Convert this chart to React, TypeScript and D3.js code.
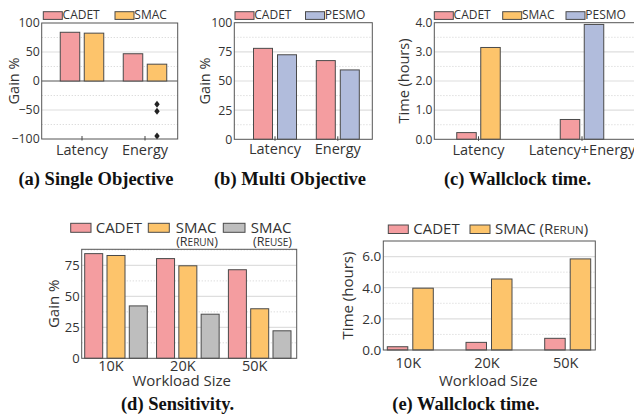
import React from 'react';
import * as d3 from 'd3';

const W = 634;
const H = 418;

const CADET = '#f49da0';
const SMAC = '#fdc46b';
const PESMO = '#b1bcdc';
const REUSE = '#bebebe';
const EDGE = '#4a4a4a';
const INK = '#333';
const SANS = '"Open Sans", Lato, sans-serif';
const SERIF = '"Liberation Serif", serif';

// (a) single objective
const singleCats = ['Latency', 'Energy'];
const singleCadet = [84, 47];
const singleSmac = [82.5, 29];
const singleSmacOutliers = [-40, -52, -95];
const singleTicks = [-100, -50, 0, 50, 100];

// (b) multi objective
const multiCats = ['Latency', 'Energy'];
const multiCadet = [78, 67.5];
const multiPesmo = [72.5, 59.5];
const multiTicks = [0, 25, 50, 75, 100];

// (c) wallclock time
const wallCats = ['Latency', 'Latency+Energy'];
const wallCadet = [0.23, 0.68];
const wallSmac = [3.15, null];
const wallPesmo = [null, 3.94];
const wallTicks = [0, 1, 2, 3, 4];

// (d) sensitivity
const sizeCats = ['10K', '20K', '50K'];
const sensCadet = [84.5, 80.5, 71.5];
const sensSmacRerun = [83, 74.7, 40];
const sensSmacReuse = [42.3, 35.6, 22.2];
const sensTicks = [0, 25, 50, 75];
const sensMax = 88;

// (e) wallclock time vs workload size
const timeCadet = [0.21, 0.49, 0.75];
const timeSmacRerun = [3.97, 4.56, 5.85];
const timeTicks = [0, 2, 4, 6];
const timeMax = 7;

type Series = { color: string; values: (number | null)[] };

interface PanelProps {
  left: number;
  right: number;
  top: number;
  bottom: number;
  xRange: [number, number];
  cats: string[];
  series: Series[];
  yDomain: [number, number];
  ticks: number[];
  fmt: (v: number) => string;
  barW: number;
  gap: number;
  tickSize: number;
  catSize: number;
  catY: number;
  catDx?: number;
  xTicks?: boolean;
  yLabel: string;
  yLabelX: number;
  yLabelSize: number;
  outliers?: { cat: number; series: number; values: number[] };
}

const Panel: React.FC<PanelProps> = (p) => {
  const y = d3.scaleLinear().domain(p.yDomain).range([p.bottom, p.top]);
  const x = d3.scalePoint<string>().domain(p.cats).range(p.xRange);
  const step = p.ticks[1] - p.ticks[0];
  const minor = d3.range(p.yDomain[0] + step / 2, p.yDomain[1], step);
  const inner = p.ticks.filter((t) => t > p.yDomain[0] && t < p.yDomain[1]);

  const bars: { x: number; y0: number; y1: number; color: string; key: string }[] = [];
  const barX: Record<string, number> = {};
  p.cats.forEach((c, ci) => {
    const present = p.series.map((s, si) => ({ s, si })).filter((d) => d.s.values[ci] != null);
    const total = present.length * p.barW + (present.length - 1) * p.gap;
    present.forEach((d, k) => {
      const bx = (x(c) as number) - total / 2 + k * (p.barW + p.gap);
      barX[`${ci}-${d.si}`] = bx;
      const v = d.s.values[ci] as number;
      bars.push({ x: bx, y0: y(Math.max(0, p.yDomain[0])), y1: y(v), color: d.s.color, key: `${ci}-${d.si}` });
    });
  });

  const diamond = d3.symbol().type(d3.symbolDiamond).size(14)();

  return (
    <g>
      {minor.map((t) => (
        <line key={`m${t}`} x1={p.left} x2={p.right} y1={y(t)} y2={y(t)} stroke="#cfcfcf" strokeWidth={0.8} strokeDasharray="1.2 1.8" />
      ))}
      {inner.map((t) => (
        <line key={`g${t}`} x1={p.left} x2={p.right} y1={y(t)} y2={y(t)} stroke={t === 0 ? '#555' : '#dedede'} strokeWidth={t === 0 ? 1 : 1.2} />
      ))}
      {bars.map((b) => (
        <rect key={b.key} x={b.x} y={Math.min(b.y0, b.y1)} width={p.barW} height={Math.abs(b.y0 - b.y1)} fill={b.color} stroke={EDGE} strokeWidth={1} />
      ))}
      {p.outliers &&
        p.outliers.values.map((v) => (
          <path
            key={`o${v}`}
            d={diamond as string}
            transform={`translate(${barX[`${p.outliers!.cat}-${p.outliers!.series}`] + p.barW / 2},${y(v)}) scale(1.35,1)`}
            fill="#222"
          />
        ))}
      <rect x={p.left} y={p.top} width={p.right - p.left} height={p.bottom - p.top} fill="none" stroke="#555" strokeWidth={1} />
      {p.xTicks &&
        p.cats.map((c) => (
          <line key={`t${c}`} x1={x(c)} x2={x(c)} y1={p.bottom - 3} y2={p.bottom + 1.5} stroke="#444" strokeWidth={1} />
        ))}
      {p.ticks.map((t) => (
        <text key={`l${t}`} x={p.left - 2} y={y(t)} dy="0.36em" textAnchor="end" fontSize={p.tickSize} fill={INK} fontFamily={SANS}>
          {p.fmt(t)}
        </text>
      ))}
      {p.cats.map((c) => (
        <text key={`c${c}`} x={(x(c) as number) + (p.catDx ?? 0)} y={p.catY} textAnchor="middle" fontSize={p.catSize} fill={INK} fontFamily={SANS}>
          {c}
        </text>
      ))}
      <text
        transform={`translate(${p.yLabelX},${(p.top + p.bottom) / 2}) rotate(-90)`}
        textAnchor="middle"
        dy="0.35em"
        fontSize={p.yLabelSize}
        fill={INK}
        fontFamily={SANS}
      >
        {p.yLabel}
      </text>
    </g>
  );
};

const Swatch: React.FC<{ x: number; y: number; w: number; h: number; color: string }> = ({ x, y, w, h, color }) => (
  <rect x={x} y={y} width={w} height={h} fill={color} stroke={EDGE} strokeWidth={1} />
);

const Title: React.FC<{ x: number; y: number; text: string }> = ({ x, y, text }) => (
  <text x={x} y={y} textAnchor="middle" fontSize={18.5} fontWeight="bold" fill="#111" fontFamily={SERIF}>
    {text}
  </text>
);

const Legend: React.FC<{ items: { x: number; color: string; label: string }[]; y: number; w: number; h: number; size: number; dx: number }> = ({
  items,
  y,
  w,
  h,
  size,
  dx,
}) => (
  <g>
    {items.map((it) => (
      <g key={it.label + it.x}>
        <Swatch x={it.x} y={y} w={w} h={h} color={it.color} />
        <text x={it.x + w + dx} y={y + h} fontSize={size} fill={INK} fontFamily={SANS}>
          {it.label}
        </text>
      </g>
    ))}
  </g>
);

// two-line legend label: "SMAC" over a small-caps "(Rerun)"
const StackedLabel: React.FC<{ x: number; y: number; cx: number; rest: string }> = ({ x, y, cx, rest }) => (
  <text x={x} y={y} fontSize={15}>
    SMAC
    <tspan x={cx} dy={13.5} textAnchor="middle" fontSize={12.5}>
      (R<tspan fontSize={10}>{rest}</tspan>)
    </tspan>
  </text>
);

const fmtInt = (v: number) => d3.format('d')(v);
const fmt1 = (v: number) => d3.format('.1f')(v);

export default function App() {
  return (
    <div style={{ position: 'fixed', left: 0, top: 0, background: '#fff' }}>
      <svg width={W} height={H} viewBox={`0 0 ${W} ${H}`} style={{ display: 'block' }}>
        <rect width={W} height={H} fill="#fff" />

        {/* (a) */}
        <Panel
          left={41.7}
          right={177.7}
          top={23}
          bottom={139}
          xRange={[82, 145]}
          cats={singleCats}
          series={[
            { color: CADET, values: singleCadet },
            { color: SMAC, values: singleSmac },
          ]}
          yDomain={[-100, 100]}
          ticks={singleTicks}
          fmt={fmtInt}
          barW={19.5}
          gap={4.5}
          tickSize={12.3}
          catSize={14.5}
          catY={155}
          xTicks
          yLabel="Gain %"
          yLabelX={14}
          yLabelSize={14.5}
          outliers={{ cat: 1, series: 1, values: singleSmacOutliers }}
        />
        <Legend
          y={11.7}
          w={19}
          h={7.7}
          size={12}
          dx={0.3}
          items={[
            { x: 43.3, color: CADET, label: 'CADET' },
            { x: 115, color: SMAC, label: 'SMAC' },
          ]}
        />
        <Title x={96} y={185} text="(a) Single Objective" />

        {/* (b) */}
        <Panel
          left={234.3}
          right={372.3}
          top={22.7}
          bottom={139.3}
          xRange={[275, 337.8]}
          cats={multiCats}
          series={[
            { color: CADET, values: multiCadet },
            { color: PESMO, values: multiPesmo },
          ]}
          yDomain={[0, 100]}
          ticks={multiTicks}
          fmt={fmtInt}
          barW={19}
          gap={5}
          tickSize={12.3}
          catSize={14.5}
          catY={153.5}
          xTicks
          yLabel="Gain %"
          yLabelX={205}
          yLabelSize={14.5}
        />
        <Legend
          y={11.7}
          w={19}
          h={7.7}
          size={12}
          dx={0.3}
          items={[
            { x: 235, color: CADET, label: 'CADET' },
            { x: 305.5, color: PESMO, label: 'PESMO' },
          ]}
        />
        <Title x={290} y={185} text="(b) Multi Objective" />

        {/* (c) */}
        <Panel
          left={434.3}
          right={640}
          top={22.7}
          bottom={139.3}
          xRange={[478.5, 582]}
          cats={wallCats}
          series={[
            { color: CADET, values: wallCadet },
            { color: SMAC, values: wallSmac },
            { color: PESMO, values: wallPesmo },
          ]}
          yDomain={[0, 4]}
          ticks={wallTicks}
          fmt={fmt1}
          barW={19.5}
          gap={4.5}
          tickSize={12}
          catSize={14.5}
          catY={155}
          xTicks
          yLabel="Time (hours)"
          yLabelX={404}
          yLabelSize={14.5}
        />
        <Legend
          y={11.7}
          w={19}
          h={7.7}
          size={12}
          dx={0.3}
          items={[
            { x: 434.3, color: CADET, label: 'CADET' },
            { x: 502.7, color: SMAC, label: 'SMAC' },
            { x: 566, color: PESMO, label: 'PESMO' },
          ]}
        />
        <Title x={517.5} y={185} text="(c) Wallclock time." />

        {/* (d) */}
        <Panel
          left={81.7}
          right={296.7}
          top={249.3}
          bottom={358.3}
          xRange={[116, 259.7]}
          cats={sizeCats}
          series={[
            { color: CADET, values: sensCadet },
            { color: SMAC, values: sensSmacRerun },
            { color: REUSE, values: sensSmacReuse },
          ]}
          yDomain={[0, sensMax]}
          ticks={sensTicks}
          fmt={fmtInt}
          barW={18}
          gap={4.3}
          tickSize={13}
          catSize={14.5}
          catY={371}
          catDx={-5}
          yLabel="Gain %"
          yLabelX={54}
          yLabelSize={15}
        />
        <text x={181.7} y={386} textAnchor="middle" fontSize={15} fill={INK} fontFamily={SANS}>
          Workload Size
        </text>
        <g fontFamily={SANS} fill={INK}>
          <Swatch x={70.7} y={223.3} w={20.3} h={9} color={CADET} />
          <text x={95.7} y={232.5} fontSize={15}>CADET</text>
          <Swatch x={148.3} y={223.3} w={21} h={9} color={SMAC} />
          <StackedLabel x={175.7} y={232.5} cx={197} rest="ERUN" />
          <Swatch x={223.3} y={223.3} w={21.7} h={9} color={REUSE} />
          <StackedLabel x={250.7} y={232.5} cx={272.5} rest="EUSE" />
        </g>
        <Title x={177.5} y={410} text="(d) Sensitivity." />

        {/* (e) */}
        <Panel
          left={383.3}
          right={595.3}
          top={241}
          bottom={350}
          xRange={[410.3, 567.7]}
          cats={sizeCats}
          series={[
            { color: CADET, values: timeCadet },
            { color: SMAC, values: timeSmacRerun },
          ]}
          yDomain={[0, timeMax]}
          ticks={timeTicks}
          fmt={fmt1}
          barW={20.5}
          gap={5}
          tickSize={13.5}
          catSize={14.5}
          catY={368}
          catDx={-2}
          yLabel="Time (hours)"
          yLabelX={348}
          yLabelSize={15}
        />
        <text x={488.3} y={386} textAnchor="middle" fontSize={15} fill={INK} fontFamily={SANS}>
          Workload Size
        </text>
        <g fontFamily={SANS} fill={INK}>
          <Swatch x={388.3} y={225} w={20} h={8.5} color={CADET} />
          <text x={413.3} y={233.5} fontSize={15}>CADET</text>
          <Swatch x={470} y={225} w={20} h={8.5} color={SMAC} />
          <text x={495} y={233.5} fontSize={15}>
            SMAC (R<tspan fontSize={11.5}>ERUN</tspan>)
          </text>
        </g>
        <Title x={465.8} y={410} text="(e) Wallclock time." />
      </svg>
    </div>
  );
}
